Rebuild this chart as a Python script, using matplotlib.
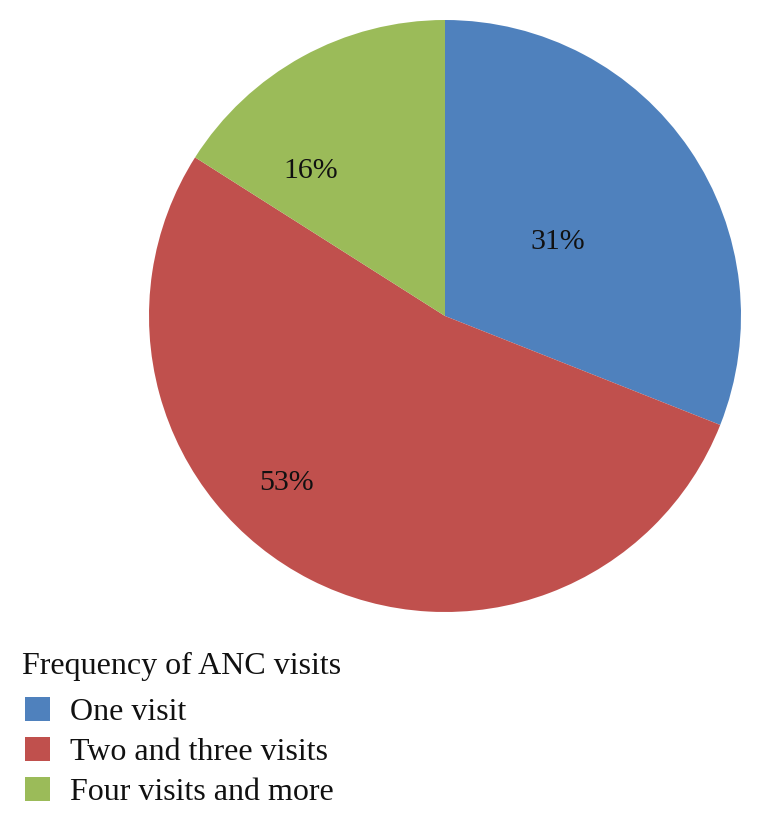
import matplotlib
matplotlib.use("Agg")
import matplotlib.pyplot as plt

categories = ["One visit", "Two and three visits", "Four visits and more"]
values = [31, 53, 16]
pct_labels = ["31%", "53%", "16%"]
legend_title = "Frequency of ANC visits"

colors = ["#4F81BD", "#C0504D", "#9BBB59"]
label_pos = [(0.38, 0.25), (-0.535, -0.565), (-0.455, 0.49)]

plt.rcParams["font.family"] = ["Liberation Serif", "DejaVu Serif"]

W, H = 761, 822
fig = plt.figure(figsize=(W / 100, H / 100), dpi=100)
cx, cy, r = 445, 316, 296
ax = fig.add_axes([(cx - r) / W, 1 - (cy + r) / H, 2 * r / W, 2 * r / H])
wedges, _ = ax.pie(values, colors=colors, startangle=90, counterclock=False,
                   radius=1, wedgeprops=dict(edgecolor="none", linewidth=0))
ax.set_xlim(-1, 1)
ax.set_ylim(-1, 1)
ax.set_aspect("equal")
ax.axis("off")

for lab, (x, y) in zip(pct_labels, label_pos):
    ax.text(x, y, lab, ha="center", va="center", fontsize=21.5, color="#111111")

fs = 23
fig.text(22 / W, 1 - 666 / H, legend_title, ha="left", va="center",
         fontsize=fs, color="#111111")
leg = fig.legend(wedges, categories, loc="center left",
                 bbox_to_anchor=(25 / W, 1 - 752 / H), frameon=False,
                 fontsize=fs, handlelength=0.78, handleheight=0.78,
                 handletextpad=0.62, labelspacing=0.3, borderpad=0,
                 borderaxespad=0)
for t in leg.get_texts():
    t.set_color("#111111")

fig.savefig("out.png", dpi=100)
